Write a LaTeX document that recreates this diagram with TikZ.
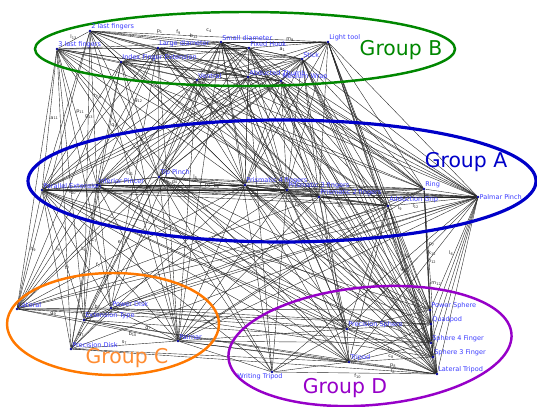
\documentclass[tikz,border=0pt]{standalone}
\usepackage{fontspec}
\setmainfont{DejaVu Sans}
\usepackage{xcolor}
\usetikzlibrary{positioning,calc}

\definecolor{graspblue}{RGB}{60,60,255}
\definecolor{dotblue}{RGB}{0,0,150}
\definecolor{grpB}{RGB}{0,135,0}
\definecolor{grpA}{RGB}{0,0,200}
\definecolor{grpC}{RGB}{255,120,0}
\definecolor{grpCtxt}{RGB}{255,140,50}
\definecolor{grpD}{RGB}{150,0,200}

\newcommand{\elab}[2]{#1\textsubscript{#2}}

\pgfdeclarelayer{background}
\pgfsetlayers{background,main}

\begin{document}
\begin{tikzpicture}[x=0.5mm, y=-0.5mm, label distance=-0.5pt,
  grasp/.style={circle, fill=dotblue, inner sep=0pt, minimum size=1.4mm},
  glabel/.style={text=graspblue, font=\fontsize{9.3}{10}\selectfont, inner sep=0.5pt},
  link/.style={draw=black!85, line width=0.55pt},
  elabel/.style={font=\fontsize{7}{8}\selectfont, inner sep=1pt, text=black!85},
  group/.style={line width=3.5pt},
  gtitle/.style={font=\fontsize{29}{30}\selectfont}]
\useasboundingbox (0,0) rectangle (537,406);

% Group B grasps
\node[grasp, label={[glabel]above right:2 last fingers}] (lastTwo) at (90,31) {};
\node[grasp, label={[glabel]above right:3 last fingers}] (lastThree) at (57,49) {};
\node[grasp, label={[glabel]above right:Large diameter}] (largeDiam) at (158,48) {};
\node[grasp, label={[glabel]above right:Index Finger Extension}] (indexExt) at (121,62) {};
\node[grasp, label={[glabel]above right:Small diameter}] (smallDiam) at (221,42) {};
\node[grasp, label={[glabel]above right:Fixed Hook}] (fixedHook) at (249,48) {};
\node[grasp, label={[glabel]above right:Light tool}] (lightTool) at (328,42) {};
\node[grasp, label={[glabel]above right:Stick}] (stick) at (302,59) {};
\node[grasp, label={[glabel]above right:Ventral}] (ventral) at (197,80) {};
\node[grasp, label={[glabel]above right:Abducted Thumb}] (abdThumb) at (248,77) {};
\node[grasp, label={[glabel]above right:Medium Wrap}] (medWrap) at (281,81) {};

% Group A grasps
\node[grasp, label={[glabel]above right:Parallel Extension}] (parExt) at (42,190) {};
\node[grasp, label={[glabel]above right:Inferior Pincer}] (infPincer) at (97,185) {};
\node[grasp, label={[glabel]above right:Tip Pinch}] (tipPinch) at (159,177) {};
\node[grasp, label={[glabel]above right:Prismatic 4 fingers}] (prism4) at (245,185) {};
\node[grasp, label={[glabel]above right:Prismatic 3 fingers}] (prism3) at (287,190) {};
\node[grasp, label={[glabel]above right:Prismatic 2 fingers}] (prism2) at (319,197) {};
\node[grasp, label={[glabel, yshift=3pt]above right:Adduction Grip}] (adduction) at (388,206) {};
\node[grasp, label={[glabel]above right:Ring}] (ring) at (424,189) {};
\node[grasp, label={[glabel]right:Palmar Pinch}] (palmarPinch) at (478,197) {};

% Group C grasps
\node[grasp, label={[glabel]above right:Lateral}] (lateral) at (17,309) {};
\node[grasp, label={[glabel]above right:Power Disk}] (powerDisk) at (111,308) {};
\node[grasp, label={[glabel]above right:Extension Type}] (extType) at (84,320) {};
\node[grasp, label={[glabel]above right:Precision Disk}] (precDisk) at (71,349) {};
\node[grasp, label={[glabel]above right:Palmar}] (palmar) at (178,341) {};

% Group D grasps
\node[grasp, label={[glabel, xshift=-6mm]below:Writing Tripod}] (writing) at (272,372) {};
\node[grasp, label={[glabel]above right:Tripod}] (tripod) at (349,362) {};
\node[grasp, label={[glabel]above right:Precision Sphere}] (precSphere) at (347,329) {};
\node[grasp, label={[glabel]above right:Power Sphere}] (powerSphere) at (430,310) {};
\node[grasp, label={[glabel]above right:Quadpod}] (quadpod) at (431,324) {};
\node[grasp, label={[glabel]above right:Sphere 4 Finger}] (sphere4) at (431,343) {};
\node[grasp, label={[glabel]above right:Sphere 3 Finger}] (sphere3) at (433,357) {};
\node[grasp, label={[glabel]above right:Lateral Tripod}] (latTripod) at (437,374) {};

\begin{pgfonlayer}{background}
% Links from group B
\foreach \t in {lastThree,largeDiam,indexExt,smallDiam,fixedHook,lightTool,stick,ventral,abdThumb,medWrap,parExt,infPincer,tipPinch,prism4,prism3,lateral,extType,palmar}
  \draw[link] (lastTwo) -- (\t);
\foreach \t in {largeDiam,indexExt,smallDiam,fixedHook,ventral,abdThumb,medWrap,parExt,infPincer,tipPinch,prism4,prism2,ring,lateral,extType,precDisk,powerDisk,writing,tripod}
  \draw[link] (lastThree) -- (\t);
\foreach \t in {indexExt,smallDiam,fixedHook,stick,ventral,abdThumb,medWrap,parExt,infPincer,tipPinch,prism4,prism3,prism2,adduction,palmarPinch,lateral,powerDisk,palmar,sphere4,latTripod}
  \draw[link] (largeDiam) -- (\t);
\foreach \t in {smallDiam,fixedHook,ventral,abdThumb,medWrap,stick,parExt,infPincer,tipPinch,prism4,prism3,prism2,ring,lateral,precDisk,palmar}
  \draw[link] (indexExt) -- (\t);
\foreach \t in {fixedHook,lightTool,stick,ventral,abdThumb,medWrap,parExt,tipPinch,prism4,prism3,prism2,adduction,ring,palmarPinch,palmar,powerDisk,tripod,writing,precSphere}
  \draw[link] (smallDiam) -- (\t);
\foreach \t in {lightTool,stick,ventral,abdThumb,medWrap,infPincer,tipPinch,prism4,prism3,prism2,ring,palmarPinch,quadpod,sphere3,latTripod}
  \draw[link] (fixedHook) -- (\t);
\foreach \t in {stick,abdThumb,medWrap,ventral,tipPinch,prism4,prism3,prism2,adduction,ring,palmarPinch,powerSphere,quadpod,sphere4,sphere3,latTripod}
  \draw[link] (lightTool) -- (\t);
\foreach \t in {ventral,abdThumb,medWrap,parExt,infPincer,prism4,prism3,prism2,adduction,ring,palmarPinch,powerSphere,quadpod,sphere4,latTripod,tripod}
  \draw[link] (stick) -- (\t);
\foreach \t in {abdThumb,medWrap,parExt,infPincer,tipPinch,prism4,prism3,prism2,adduction,palmarPinch,extType,palmar,lateral}
  \draw[link] (ventral) -- (\t);
\foreach \t in {medWrap,parExt,infPincer,tipPinch,prism4,prism3,ring,palmarPinch,precDisk,lateral,sphere3,writing}
  \draw[link] (abdThumb) -- (\t);
\foreach \t in {parExt,infPincer,tipPinch,prism4,prism3,prism2,adduction,ring,palmarPinch,powerSphere,sphere4,sphere3,precSphere}
  \draw[link] (medWrap) -- (\t);

% Links from group A
\foreach \t in {infPincer,tipPinch,prism4,prism3,prism2,adduction,ring,palmarPinch,lateral,powerDisk,extType,precDisk,palmar,writing,tripod,precSphere,powerSphere,sphere4,latTripod}
  \draw[link] (parExt) -- (\t);
\foreach \t in {tipPinch,prism4,prism3,prism2,adduction,palmarPinch,lateral,powerDisk,extType,precDisk,palmar,tripod,precSphere,quadpod,sphere3,latTripod}
  \draw[link] (infPincer) -- (\t);
\foreach \t in {prism4,prism3,prism2,adduction,ring,palmarPinch,lateral,extType,precDisk,palmar,writing,tripod,precSphere,powerSphere,sphere4,latTripod}
  \draw[link] (tipPinch) -- (\t);
\foreach \t in {prism3,prism2,adduction,ring,palmarPinch,lateral,precDisk,palmar,tripod,precSphere,quadpod,sphere4,sphere3,latTripod}
  \draw[link] (prism4) -- (\t);
\foreach \t in {prism2,adduction,ring,palmarPinch,extType,palmar,writing,precSphere,powerSphere,sphere4,latTripod}
  \draw[link] (prism3) -- (\t);
\foreach \t in {adduction,ring,palmarPinch,lateral,palmar,tripod,precSphere,quadpod,sphere3,latTripod}
  \draw[link] (prism2) -- (\t);
\foreach \t in {ring,palmarPinch,lateral,extType,palmar,tripod,precSphere,powerSphere,sphere4,sphere3,latTripod}
  \draw[link] (adduction) -- (\t);
\foreach \t in {palmarPinch,powerDisk,palmar,powerSphere,quadpod,sphere4,sphere3,latTripod}
  \draw[link] (ring) -- (\t);
\foreach \t in {lateral,extType,precDisk,palmar,powerDisk,writing,tripod,precSphere,powerSphere,quadpod,sphere4,sphere3,latTripod}
  \draw[link] (palmarPinch) -- (\t);

% Links from group C
\foreach \t in {extType,palmar,powerDisk,precSphere,powerSphere,quadpod}
  \draw[link] (lateral) -- (\t);
\foreach \t in {extType,palmar,precDisk,precSphere,quadpod,sphere3}
  \draw[link] (powerDisk) -- (\t);
\foreach \t in {precDisk,palmar,tripod,sphere4,latTripod}
  \draw[link] (extType) -- (\t);
\foreach \t in {palmar,latTripod,tripod}
  \draw[link] (precDisk) -- (\t);
\foreach \t in {writing,tripod,precSphere,sphere4,latTripod}
  \draw[link] (palmar) -- (\t);

% Links inside group D
\foreach \t in {tripod,latTripod,precSphere}
  \draw[link] (writing) -- (\t);
\foreach \t in {precSphere,sphere4,sphere3,latTripod,quadpod}
  \draw[link] (tripod) -- (\t);
\foreach \t in {powerSphere,quadpod,sphere4,sphere3,latTripod}
  \draw[link] (precSphere) -- (\t);
\foreach \t in {quadpod,sphere4,sphere3,latTripod}
  \draw[link] (powerSphere) -- (\t);
\foreach \t in {sphere4,sphere3,latTripod}
  \draw[link] (quadpod) -- (\t);
\draw[link] (sphere4) -- (sphere3);
\draw[link] (sphere4) -- (latTripod);
\draw[link] (sphere3) -- (latTripod);

% Link labels
\path (lastTwo) -- node[elabel, above] {\elab{l}{13}} (lastThree);
\path (lastTwo) -- node[elabel, above, pos=.29] {\elab{p}{1}} (lightTool);
\path (lastTwo) -- node[elabel, above, pos=.37] {\elab{f}{9}} (lightTool);
\path (lastTwo) -- node[elabel, above=5pt, pos=.5] {\elab{c}{4}} (lightTool);
\path (lastTwo) -- node[elabel, above, pos=.8] {\elab{b}{12}} (smallDiam);
\path (smallDiam) -- node[elabel, above, pos=.65] {\elab{m}{9}} (lightTool);
\path (fixedHook) -- node[elabel, below=2pt, pos=.42] {\elab{a}{1}} (lightTool);
\path (lastThree) -- node[elabel, right, pos=.49] {\elab{a}{11}} (parExt);
\path (lastThree) -- node[elabel, right, pos=.46] {\elab{p}{11}} (infPincer);
\path (lastTwo) -- node[elabel, left, pos=.56] {\elab{g}{13}} (infPincer);
\path (lastTwo) -- node[elabel, right, pos=.42] {\elab{h}{13}} (infPincer);
\path (indexExt) -- node[elabel, right, pos=.33] {\elab{g}{12}} (tipPinch);
\path (lastThree) -- node[elabel, left, pos=.6] {\elab{q}{9}} (tipPinch);
\path (infPincer) -- node[elabel, above=6pt, pos=.53] {\elab{s}{11}} (tipPinch);
\path (tipPinch) -- node[elabel, below, pos=.17] {\elab{d}{4}} (prism4);
\path (tipPinch) -- node[elabel, above, pos=.42] {\elab{l}{5}} (prism4);
\path (tipPinch) -- node[elabel, below, pos=.45] {\elab{b}{6}} (prism3);
\path (tipPinch) -- node[elabel, below, pos=.3] {\elab{p}{4}} (prism2);
\path (parExt) -- node[elabel, below=2.5pt, pos=.56] {\elab{t}{10}} (infPincer);
\path (parExt) -- node[elabel, below, pos=.74] {\elab{f}{4}} (adduction);
\path (infPincer) -- node[elabel, below, pos=.84] {\elab{d}{5}} (adduction);
\path (prism3) -- node[elabel, below, pos=.62] {\elab{q}{5}} (adduction);
\path (adduction) -- node[elabel, below, pos=.12] {\elab{l}{9}} (palmarPinch);
\path (adduction) -- node[elabel, below, pos=.3] {\elab{l}{12}} (palmarPinch);
\path (parExt) -- node[elabel, right, pos=.5] {\elab{h}{9}} (lateral);
\path (infPincer) -- node[elabel, right, pos=.52] {\elab{l}{9}} (lateral);
\path (infPincer) -- node[elabel, left, pos=.39] {\elab{t}{9}} (precDisk);
\path (tipPinch) -- node[elabel, right, pos=.48] {\elab{c}{7}} (lateral);
\path (tipPinch) -- node[elabel, left, pos=.46] {\elab{e}{7}} (extType);
\path (prism4) -- node[elabel, pos=.645] {\elab{f}{7}} (lateral);
\path (parExt) -- node[elabel, pos=.6] {\elab{t}{7}} (extType);
\path (ring) -- node[elabel, right, pos=.3] {\elab{p}{7}} (latTripod);
\path (ring) -- node[elabel, right, pos=.38] {\elab{k}{12}} (sphere3);
\path (palmarPinch) -- node[elabel, left, pos=.5] {\elab{l}{6}} (powerSphere);
\path (ring) -- node[elabel, right, pos=.47] {\elab{h}{12}} (sphere4);
\path (ring) -- node[elabel, right, pos=.51] {\elab{m}{12}} (latTripod);
\path (adduction) -- node[elabel, right, pos=.36] {\elab{k}{5}} (sphere4);
\path (adduction) -- node[elabel, left, pos=.42] {\elab{g}{8}} (sphere3);
\path (lateral) -- node[elabel, above, pos=.22] {\elab{g}{9}} (palmar);
\path (extType) -- node[elabel, below, pos=.52] {\elab{b}{10}} (palmar);
\path (powerDisk) -- node[elabel, below right, pos=.5] {\elab{d}{7}} (palmar);
\path (extType) -- node[elabel, above=6pt, pos=.5] {\elab{b}{7}} (powerDisk);
\path (extType) -- node[elabel, right, pos=.5] {\elab{q}{7}} (precDisk);
\path (precDisk) -- node[elabel, above, pos=.5] {\elab{s}{7}} (palmar);
\path (writing) -- node[elabel, below, pos=.52] {\elab{f}{10}} (latTripod);
\path (tripod) -- node[elabel, below, pos=.5] {\elab{l}{8}} (latTripod);
\path (tripod) -- node[elabel, above, pos=.5] {\elab{p}{8}} (latTripod);
\path (tripod) -- node[elabel, above, pos=.5] {\elab{c}{8}} (sphere3);
\path (tripod) -- node[elabel, above, pos=.5] {\elab{t}{8}} (sphere4);

% Group outlines
\draw[group, grpB] (245,49) ellipse [x radius=210, y radius=37];
\draw[group, grpA, line width=4.5pt] (282,181) ellipse [x radius=254, y radius=61];
\draw[group, grpC] (113,324) ellipse [x radius=106, y radius=51];
\draw[group, grpD, rotate around={5:(370,346)}] (370,346) ellipse [x radius=142, y radius=59];
\end{pgfonlayer}

% Group titles
\node[gtitle, text=grpB] (titleB) at (401,50) {Group B};
\node[gtitle, text=grpA] (titleA) at (466,162) {Group A};
\node[gtitle, text=grpCtxt] (titleC) at (127,358) {Group C};
\node[gtitle, text=grpD] (titleD) at (345,388) {Group D};
\end{tikzpicture}
\end{document}
